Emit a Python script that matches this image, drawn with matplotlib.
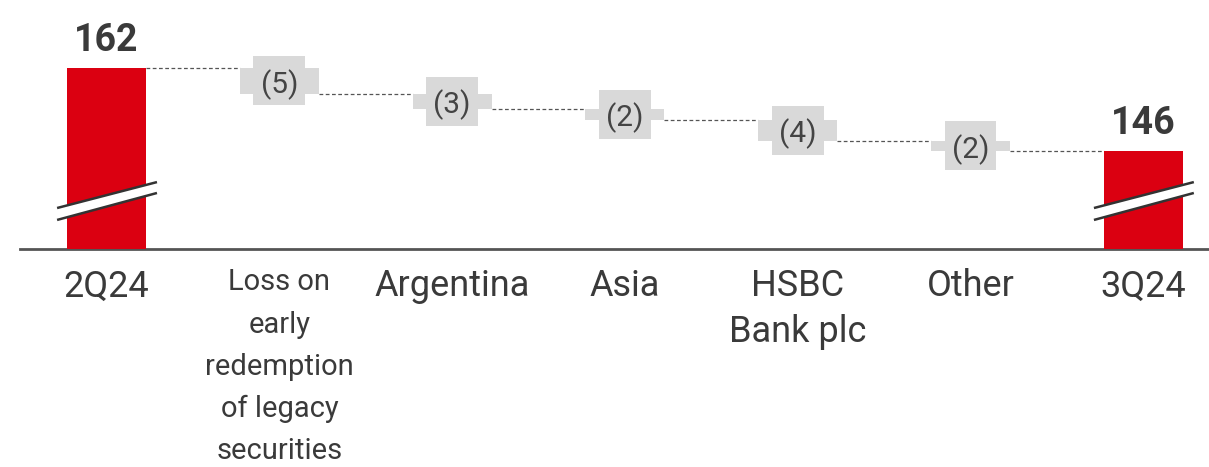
import matplotlib.pyplot as plt
from matplotlib.patches import Rectangle, Polygon

categories = ["2Q24", "Loss on\nearly\nredemption\nof legacy\nsecurities", "Argentina",
              "Asia", "HSBC\nBank plc", "Other", "3Q24"]
start_value = 162
deltas = [-5, -3, -2, -4, -2]
end_value = 146
delta_labels = ["(5)", "(3)", "(2)", "(4)", "(2)"]

red = "#db0011"
grey_box = "#d9d9d9"
text_col = "#3a3a3a"
bar_w = 0.457
box_w = 0.30
box_h = 9.45
ybot = 127.1

plt.rcParams['font.family'] = ['Roboto', 'DejaVu Sans']

fig = plt.figure(figsize=(12.09, 4.67), dpi=100)
ax = fig.add_axes([20 / 1209, (467 - 249) / 467, 1188 / 1209, 249 / 467])
ax.set_xlim(-0.5006, 6.374)
ax.set_ylim(ybot, 175.1)
for s in ["top", "left", "right"]:
    ax.spines[s].set_visible(False)
ax.spines["bottom"].set_color("#555555")
ax.spines["bottom"].set_linewidth(2)
ax.set_xticks([])
ax.set_yticks([])


def draw_break(xc):
    # two slanted lines with white gap between them
    x0, x1 = xc - 0.286, xc + 0.292
    lo = [(x0, 132.7), (x1, 137.9)]
    hi = [(x0, 135.0), (x1, 140.0)]
    ax.add_patch(Polygon(lo + hi[::-1], closed=True, facecolor="white",
                         edgecolor="none", zorder=4, clip_on=False))
    ax.plot([lo[0][0], lo[1][0]], [lo[0][1], lo[1][1]], color="#333333", lw=1.8,
            zorder=5, clip_on=False, solid_capstyle="butt")
    ax.plot([hi[0][0], hi[1][0]], [hi[0][1], hi[1][1]], color="#333333", lw=1.8,
            zorder=5, clip_on=False, solid_capstyle="butt")


# total bars
for i, v in [(0, start_value), (6, end_value)]:
    ax.bar(i, v - ybot, bottom=ybot, width=bar_w, color=red, zorder=3)
    draw_break(i)
    ax.annotate(str(v), (i, v), xytext=(0, 12), textcoords="offset points",
                ha="center", va="baseline", fontsize=27, fontweight="bold",
                color=text_col)

# delta bars
level = start_value
levels = [level]
for k, d in enumerate(deltas):
    i = k + 1
    new = level + d
    ax.bar(i, abs(d), bottom=min(level, new), width=bar_w, color=grey_box, zorder=3)
    mid = (level + new) / 2
    ax.add_patch(Rectangle((i - box_w / 2, mid - box_h / 2), box_w, box_h,
                           facecolor=grey_box, edgecolor="none", zorder=3))
    ax.text(i, mid, delta_labels[k], ha="center", va="center_baseline", fontsize=21.5,
            color="#444444", zorder=4)
    level = new
    levels.append(level)

# connectors
for i, lv in enumerate(levels):
    ax.plot([i + bar_w / 2, i + 1 - bar_w / 2], [lv, lv], color="#555555", lw=0.9,
            ls=(0, (3, 2)), zorder=2)

# category labels
for i, c in enumerate(categories):
    fs = 21 if i == 1 else 26
    ls = 1.64 if i == 1 else 1.34
    ax.annotate(c, (i, ybot), xytext=(0, -14), textcoords="offset points",
                ha="center", va="top", fontsize=fs, color=text_col,
                linespacing=ls, annotation_clip=False)

fig.savefig("out.png", dpi=100)
